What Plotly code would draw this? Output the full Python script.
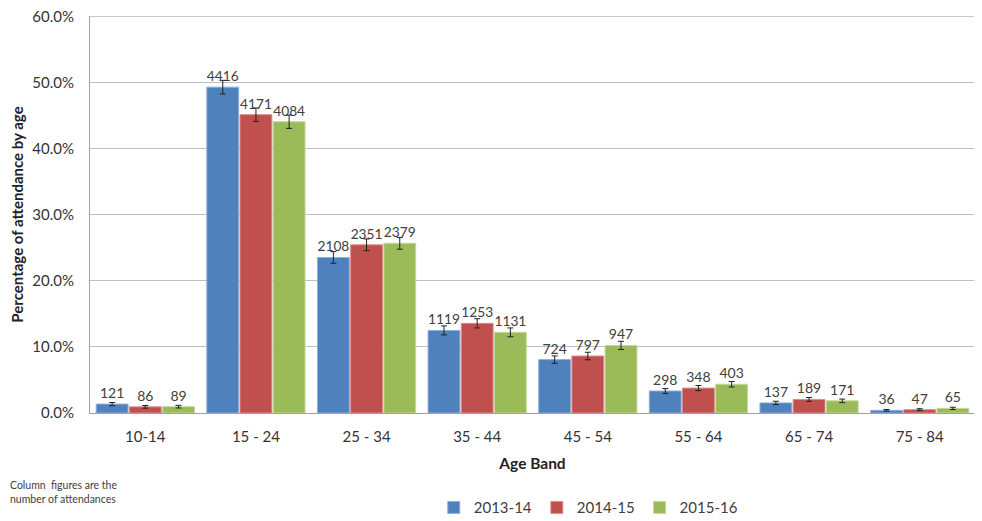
import plotly.graph_objects as go

categories = ["10-14", "15 - 24", "25 - 34", "35 - 44", "45 - 54", "55 - 64", "65 - 74", "75 - 84"]
series_names = ["2013-14", "2014-15", "2015-16"]

pct_2013 = [1.35, 49.29, 23.53, 12.49, 8.08, 3.33, 1.53, 0.40]
pct_2014 = [0.93, 45.13, 25.44, 13.56, 8.62, 3.77, 2.05, 0.51]
pct_2015 = [0.96, 44.06, 25.67, 12.20, 10.22, 4.35, 1.84, 0.70]

err_2013 = [0.24, 1.03, 0.88, 0.68, 0.56, 0.37, 0.25, 0.13]
err_2014 = [0.20, 1.01, 0.89, 0.70, 0.57, 0.39, 0.29, 0.14]
err_2015 = [0.20, 1.01, 0.89, 0.67, 0.62, 0.42, 0.27, 0.17]

cnt_2013 = [121, 4416, 2108, 1119, 724, 298, 137, 36]
cnt_2014 = [86, 4171, 2351, 1253, 797, 348, 189, 47]
cnt_2015 = [89, 4084, 2379, 1131, 947, 403, 171, 65]

y_max = 60

colors = ["#4F81BD", "#C0504D", "#9BBB59"]
edge_colors = ["#8EB0DA", "#DC8E8C", "#C3D99B"]
FONT = "Lato"

fig = go.Figure()
for name, vals, errs, cnts, col, ecol in zip(series_names,
                                             [pct_2013, pct_2014, pct_2015],
                                             [err_2013, err_2014, err_2015],
                                             [cnt_2013, cnt_2014, cnt_2015],
                                             colors, edge_colors):
    fig.add_trace(go.Bar(
        name=name, x=categories, y=vals,
        marker=dict(color=col, line=dict(color=ecol, width=1)),
        error_y=dict(type="data", array=errs, visible=True, color="#222222",
                     thickness=1, width=3),
        text=[str(c) for c in cnts],
        textposition="outside",
        textfont=dict(family=FONT, size=14, color="#404040"),
        cliponaxis=False,
    ))

# top gridline at the range end
fig.add_hline(y=y_max, line=dict(color="#BFBFBF", width=1), layer="below")

# the page body adds an 8px offset, so the figure is sized to fit the window
fig.update_layout(
    width=974, height=513,
    margin=dict(l=82, r=7, t=8, b=108),
    paper_bgcolor="white", plot_bgcolor="white",
    barmode="group", bargap=0.1, bargroupgap=0.04,
    font=dict(family=FONT, size=14, color="#404040"),
    showlegend=True,
    legend=dict(orientation="h", x=0.563, xanchor="center",
                yref="container", y=0.026, yanchor="middle",
                font=dict(family=FONT, size=15, color="#404040"),
                traceorder="normal", itemwidth=30),
    xaxis=dict(
        title=dict(text="<b>Age Band</b>", font=dict(family=FONT, size=15.5, color="#222222"), standoff=14),
        showline=True, linecolor="#A0A0A0", linewidth=1,
        ticks="", ticklabelstandoff=10, automargin=False,
        tickfont=dict(family=FONT, size=15, color="#333333"),
    ),
    yaxis=dict(
        title=dict(text="<b>Percentage of attendance by age</b>", font=dict(family=FONT, size=15, color="#222222"), standoff=5),
        range=[0, y_max + 0.05], tickmode="linear", tick0=0, dtick=10, ticksuffix="%", tickformat=".1f",
        showline=True, linecolor="#A0A0A0", linewidth=1,
        showgrid=True, gridcolor="#BFBFBF", gridwidth=1,
        zeroline=False, ticks="", ticklabelstandoff=12, automargin=False,
        ticklabeloverflow="allow",
        tickfont=dict(family=FONT, size=15, color="#333333"),
    ),
    annotations=[dict(
        text="Column  figures are the<br>number of attendances",
        xref="paper", yref="paper", x=-0.093, y=-0.162, xanchor="left", yanchor="top",
        showarrow=False, align="left",
        font=dict(family=FONT, size=10.5, color="#404040"),
    )],
)

fig.write_html("out.html")
